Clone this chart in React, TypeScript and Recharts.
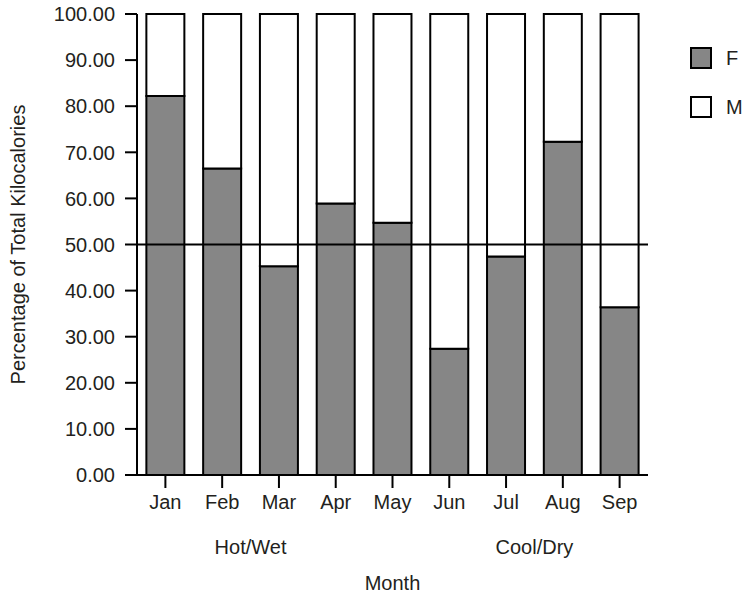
import React from "react";
import { BarChart, Bar, XAxis, YAxis, ReferenceLine, Legend, Label } from "recharts";

const months = ["Jan", "Feb", "Mar", "Apr", "May", "Jun", "Jul", "Aug", "Sep"];
const femaleShare = [82.2, 66.5, 45.3, 58.9, 54.7, 27.4, 47.4, 72.3, 36.4];
const maleShare = [17.8, 33.5, 54.7, 41.1, 45.3, 72.6, 52.6, 27.7, 63.6];
const yTicks = [0, 10, 20, 30, 40, 50, 60, 70, 80, 90, 100];
const seasons = [
  { label: "Hot/Wet", from: "Jan", to: "Apr" },
  { label: "Cool/Dry", from: "Jun", to: "Sep" },
];
const seriesNames = ["F", "M"];
const seriesFills = ["#868686", "#ffffff"];

const data = months.map((m, i) => ({ month: m, F: femaleShare[i], M: maleShare[i] }));

const W = 745;
const H = 594;
const LEFT = 137;
const RIGHT_MARGIN = 97;
const TOP = 14;
const X_AXIS_H = 90;
const BOTTOM_MARGIN = H - 475 - X_AXIS_H;
const BAND = (W - LEFT - RIGHT_MARGIN) / months.length;
const FONT = '"Liberation Sans", Arial, Helvetica, sans-serif';
const FS = 20;
const TXT = "#231f20";

const MonthTick = (props: any) => {
  const { x, y, payload } = props;
  const season = seasons.find((s) => s.from === payload.value);
  let extra = null;
  if (season) {
    const span = months.indexOf(season.to) - months.indexOf(season.from);
    extra = (
      <text x={x + (span * BAND) / 2} y={y + 66} textAnchor="middle" fontSize={FS} fontFamily={FONT} fill={TXT}>
        {season.label}
      </text>
    );
  }
  return (
    <g>
      <text x={x} y={y + 21} textAnchor="middle" fontSize={FS} fontFamily={FONT} fill={TXT}>
        {payload.value}
      </text>
      {extra}
    </g>
  );
};

const ValueTick = (props: any) => {
  const { x, y, payload } = props;
  return (
    <text x={x} y={y} dy="0.36em" textAnchor="end" fontSize={FS} fontFamily={FONT} fill={TXT}>
      {Number(payload.value).toFixed(2)}
    </text>
  );
};

const renderLegend = () => (
  <div style={{ fontFamily: FONT, fontSize: FS, color: TXT }}>
    {seriesNames.map((n, i) => (
      <div key={n} style={{ display: "flex", alignItems: "center", height: 22, marginBottom: 27 }}>
        <div
          style={{
            width: 18,
            height: 18,
            border: "2px solid #000",
            background: seriesFills[i],
            marginRight: 14,
          }}
        />
        <span style={{ lineHeight: "22px" }}>{n}</span>
      </div>
    ))}
  </div>
);

export default function App() {
  return (
    <div style={{ position: "absolute", left: 0, top: 0, background: "#fff" }}>
      <BarChart
        width={W}
        height={H}
        data={data}
        margin={{ top: TOP, right: RIGHT_MARGIN, bottom: BOTTOM_MARGIN, left: 0 }}
        barCategoryGap="16.5%"
      >
        <XAxis
          dataKey="month"
          height={X_AXIS_H}
          interval={0}
          tickSize={13}
          tickMargin={0}
          tickLine={{ stroke: "#000", strokeWidth: 2 }}
          axisLine={{ stroke: "#000", strokeWidth: 2 }}
          tick={<MonthTick />}
        >
          <Label
            content={(p: any) => {
              const vb = p.viewBox || {};
              return (
                <text x={vb.x + vb.width / 2} y={590} textAnchor="middle" fontSize={FS} fontFamily={FONT} fill={TXT}>
                  Month
                </text>
              );
            }}
          />
        </XAxis>
        <XAxis
          xAxisId="top"
          dataKey="month"
          orientation="top"
          height={0}
          tick={false}
          tickLine={false}
          axisLine={{ stroke: "#000", strokeWidth: 2 }}
        />
        <YAxis
          width={LEFT}
          domain={[0, 100]}
          ticks={yTicks}
          interval={0}
          tickSize={12}
          tickMargin={10}
          tickLine={{ stroke: "#000", strokeWidth: 2 }}
          axisLine={{ stroke: "#000", strokeWidth: 2 }}
          tick={<ValueTick />}
        >
          <Label
            content={() => (
              <text
                x={18}
                y={244.5}
                transform="rotate(-90, 18, 244.5)"
                textAnchor="middle"
                dominantBaseline="central"
                fontSize={FS}
                fontFamily={FONT}
                fill={TXT}
              >
                Percentage of Total Kilocalories
              </text>
            )}
          />
        </YAxis>
        <YAxis
          yAxisId="right"
          orientation="right"
          width={0}
          domain={[0, 100]}
          tick={false}
          tickLine={false}
          axisLine={{ stroke: "#000", strokeWidth: 2 }}
        />
        <Bar dataKey="F" stackId="a" fill={seriesFills[0]} stroke="#000" strokeWidth={2} isAnimationActive={false} />
        <Bar dataKey="M" stackId="a" fill={seriesFills[1]} stroke="#000" strokeWidth={2} isAnimationActive={false} />
        <ReferenceLine y={50} stroke="#000" strokeWidth={2} />
        <Legend
          layout="vertical"
          align="center"
          verticalAlign="middle"
          content={renderLegend}
          wrapperStyle={{ position: "absolute", left: 690, top: 47, width: 55, height: 80 }}
        />
      </BarChart>
    </div>
  );
}
